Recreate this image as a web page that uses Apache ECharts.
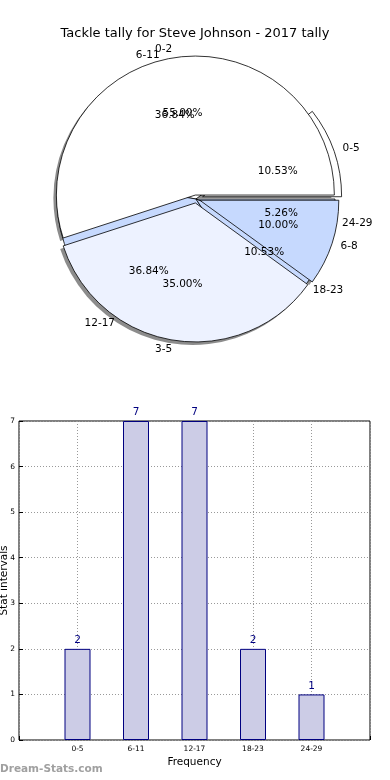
<!DOCTYPE html>
<html><head><meta charset="utf-8">
<script src="https://cdn.jsdelivr.net/npm/echarts@6/dist/echarts.min.js"></script>
<style>html,body{margin:0;padding:0;background:#fff}#c{width:390px;height:780px}</style>
</head><body><div id="c"></div>
<script>
// ---- data ----
const titleText = 'Tackle tally for Steve Johnson - 2017 tally';
const pieANames = ['0-2', '3-5', '6-8'];
const pieAValues = [55, 35, 10];
const categories = ['0-5', '6-11', '12-17', '18-23', '24-29'];
const counts = [2, 7, 7, 2, 1];
const yTicks = [0, 1, 2, 3, 4, 5, 6, 7];
const xAxisName = 'Frequency';
const yAxisName = 'Stat intervals';
const watermark = 'Dream-Stats.com';

// ---- styles ----
const pieAColors = ['#ffffff', '#edf2ff', '#c6d9fe'];
const pieBColors = ['#ffffff', '#ffffff', '#c6d9fe', '#c6d9fe', '#c6d9fe'];
const R = 139, C = [196, 199];
const FONT = 'DejaVu Sans';

const sumA = pieAValues.reduce((a, b) => a + b, 0);
const sumB = counts.reduce((a, b) => a + b, 0);

function pieBase(extra) {
  return Object.assign({
    type: 'pie', center: C, radius: R, startAngle: 0, clockwise: false,
    avoidLabelOverlap: false, silent: true, emphasis: { disabled: true },
    labelLayout: { hideOverlap: false },
    animation: false
  }, extra);
}
const nameLabel = {
  show: true, position: 'outside', formatter: '{b}', fontSize: 10.5,
  fontFamily: FONT, color: '#000', distanceToLabelLine: 0
};
const nameLine = { show: false, length: 9, length2: 0 };
const pctLabel = (sum) => ({
  show: true, position: 'inside', fontSize: 10.5, fontFamily: FONT, color: '#000',
  formatter: p => (p.value / sum * 100).toFixed(2) + '%'
});

const series = [
  // shadow of the front pie
  pieBase({
    center: [C[0] - 3, C[1] + 3],
    selectedMode: 'multiple', selectedOffset: 4,
    data: pieAValues.map((v, i) => ({ name: pieANames[i], value: v, selected: true })),
    itemStyle: { color: 'rgba(0,0,0,0.45)', borderWidth: 0 },
    select: { itemStyle: { color: 'rgba(0,0,0,0.45)', borderWidth: 0 } },
    label: { show: false }, labelLine: { show: false }
  }),
  // back pie (stat intervals)
  pieBase({
    selectedMode: 'multiple', selectedOffset: 7,
    data: counts.map((v, i) => ({
      name: categories[i], value: v, selected: i === 0,
      itemStyle: { color: pieBColors[i] }
    })),
    itemStyle: { borderColor: '#000', borderWidth: 0.8 },
    select: { itemStyle: { borderColor: '#000', borderWidth: 0.8 } },
    label: nameLabel, labelLine: nameLine
  }),
  // front pie
  pieBase({
    selectedMode: 'multiple', selectedOffset: 4,
    data: pieAValues.map((v, i) => ({
      name: pieANames[i], value: v, selected: true,
      itemStyle: { color: pieAColors[i] }
    })),
    itemStyle: { borderColor: '#000', borderWidth: 0.8 },
    select: { itemStyle: { borderColor: '#000', borderWidth: 0.8 } },
    label: nameLabel, labelLine: nameLine
  }),
  // percentage label carriers (transparent)
  pieBase({
    radius: R * 1.2,
    data: counts.map((v, i) => ({ name: categories[i], value: v })),
    itemStyle: { color: 'rgba(0,0,0,0)', borderWidth: 0 },
    label: pctLabel(sumB), labelLine: { show: false }
  }),
  pieBase({
    radius: R * 1.2,
    data: pieAValues.map((v, i) => ({ name: pieANames[i], value: v })),
    itemStyle: { color: 'rgba(0,0,0,0)', borderWidth: 0 },
    label: pctLabel(sumA), labelLine: { show: false }
  }),
  // bar chart
  {
    type: 'bar', xAxisIndex: 0, yAxisIndex: 0, barWidth: 26, animation: false, silent: true,
    data: ['-', ...counts, '-'],
    itemStyle: { color: '#ccccE6', borderColor: '#000080', borderWidth: 1 },
    label: { show: true, position: 'top', distance: 3, color: '#000080', fontSize: 10.5, fontFamily: FONT }
  }
];

const chart = echarts.init(document.getElementById('c'), null, { renderer: 'canvas' });
chart.setOption({
  backgroundColor: '#fff',
  animation: false,
  title: {
    text: titleText, left: 'center', top: 22,
    textStyle: { fontSize: 13, fontWeight: 'normal', color: '#000', fontFamily: FONT }
  },
  grid: {
    left: 19, right: 20, top: 421, bottom: 40, show: true, borderColor: '#000', borderWidth: 1,
    containLabel: false, outerBoundsMode: 'none'
  },
  xAxis: {
    type: 'category', data: ['', ...categories, ''], boundaryGap: false,
    axisLine: { show: false },
    axisTick: { show: true, inside: true, length: 4, lineStyle: { color: '#000' } },
    axisLabel: { interval: 0, fontSize: 7.5, color: '#000', margin: 5, fontFamily: FONT },
    splitLine: { show: true, lineStyle: { type: [1, 2], color: '#999' } },
    name: xAxisName, nameLocation: 'middle', nameGap: 17, nameMoveOverlap: false,
    nameTextStyle: { fontSize: 10.5, color: '#000', fontFamily: FONT }
  },
  yAxis: {
    type: 'value', min: yTicks[0], max: yTicks[yTicks.length - 1], interval: 1,
    axisLine: { show: false },
    axisTick: { show: true, inside: true, length: 4, lineStyle: { color: '#000' } },
    axisLabel: { fontSize: 7.5, color: '#000', margin: 4, fontFamily: FONT },
    splitLine: { show: true, lineStyle: { type: [1, 2], color: '#999' } },
    name: yAxisName, nameLocation: 'middle', nameGap: 9, nameMoveOverlap: false,
    nameTextStyle: { fontSize: 10.5, color: '#000', fontFamily: FONT }
  },
  graphic: [{
    type: 'text', left: 0, top: 764, silent: true,
    style: { text: watermark, fill: '#a0a0a0', font: 'bold 10.5px "DejaVu Sans"' }
  }],
  series: series
});
</script></body></html>
